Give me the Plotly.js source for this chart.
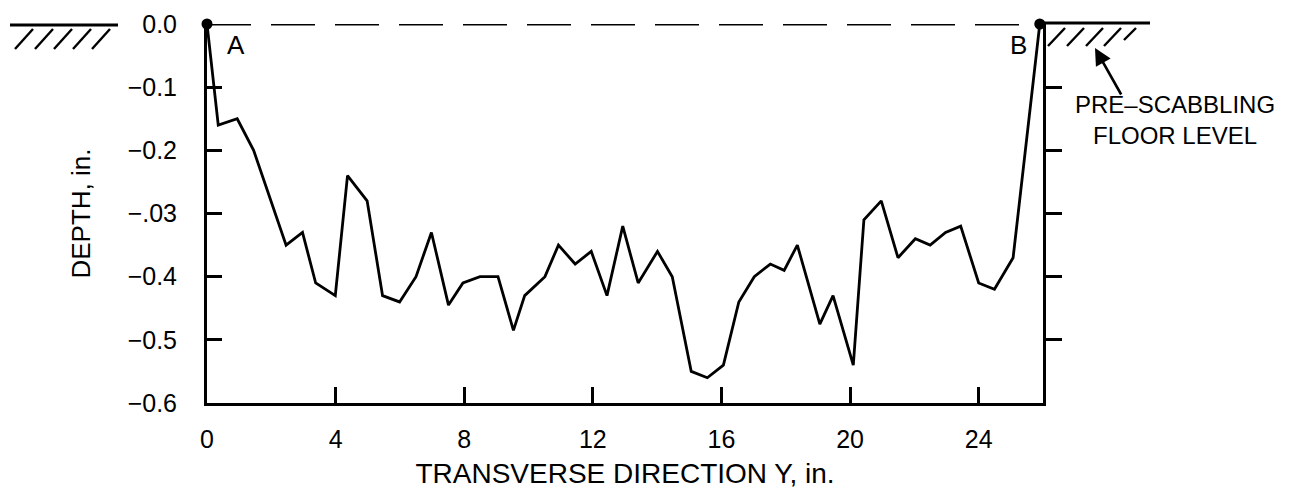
<!DOCTYPE html>
<html>
<head>
<meta charset="utf-8">
<script src="https://cdn.plot.ly/plotly-3.0.1.min.js"></script>
<style>
  html, body { margin: 0; padding: 0; background: #ffffff; }
  #chart { width: 1295px; height: 497px; }
</style>
</head>
<body>
<div id="chart"></div>
<script>
// ---- Data ----
const transverseY = [0, 0.35, 0.94, 1.45, 2.46, 2.97, 3.38, 3.99, 4.37, 4.98, 5.46, 5.99, 6.50, 6.98, 7.51, 7.96, 8.49, 9.05, 9.53, 9.88, 10.51, 10.93, 11.45, 11.95, 12.44, 12.93, 13.41, 14.01, 14.47, 15.06, 15.56, 16.06, 16.54, 17.02, 17.52, 17.95, 18.36, 19.06, 19.47, 20.10, 20.43, 20.97, 21.49, 22.03, 22.49, 22.97, 23.44, 24.00, 24.49, 25.07, 25.90];
const depth = [0, -0.16, -0.15, -0.20, -0.35, -0.33, -0.41, -0.43, -0.24, -0.28, -0.43, -0.44, -0.40, -0.33, -0.445, -0.41, -0.40, -0.40, -0.485, -0.43, -0.40, -0.35, -0.38, -0.36, -0.43, -0.32, -0.41, -0.36, -0.40, -0.55, -0.56, -0.54, -0.44, -0.40, -0.38, -0.39, -0.35, -0.475, -0.43, -0.54, -0.31, -0.28, -0.37, -0.34, -0.35, -0.33, -0.32, -0.41, -0.42, -0.37, 0];

const floorX = [0, 25.9];
const floorY = [0, 0];
const floorLabels = ['A', 'B'];

const xTickVals = [0, 4, 8, 12, 16, 20, 24];
const xTickText = ['0', '4', '8', '12', '16', '20', '24'];
const yTickVals = [0, -0.1, -0.2, -0.3, -0.4, -0.5, -0.6];
const yTickText = ['0.0', '\u22120.1', '\u22120.2', '\u2212.03', '\u22120.4', '\u22120.5', '\u22120.6'];
const rightTickVals = [-0.1, -0.2, -0.3, -0.4, -0.5];

const xTitle = 'TRANSVERSE DIRECTION Y, in.';
const yTitle = 'DEPTH, in.';
const noteText = 'PRE\u2013SCABBLING<br>FLOOR LEVEL';

// ---- Layout geometry ----
const W = 1295, H = 497;
const M = { l: 207, r: 252, t: 24, b: 94 };
const PW = W - M.l - M.r, PH = H - M.t - M.b;
const px = v => (v - M.l) / PW;          // pixel x -> paper x
const py = v => (H - M.b - v) / PH;      // pixel y -> paper y

const FONT = 'Liberation Sans, Arial, sans-serif';
const LW = 3;

const traces = [
  {
    x: transverseY, y: depth,
    type: 'scatter', mode: 'lines',
    line: { color: '#000', width: 2.8 },
    cliponaxis: false, hoverinfo: 'x+y', showlegend: false
  },
  {
    x: floorX, y: floorY,
    type: 'scatter', mode: 'lines+markers',
    yaxis: 'y2',
    line: { color: '#000', width: 3, dash: '44px,20px' },
    marker: { color: '#000', size: 11 },
    cliponaxis: false, showlegend: false
  }
];

// hatching marks (decoration) in pixel coords
const hatchSeg = [
  [10, 25, 118, 25],
  [15, 49, 33, 29], [35, 49, 53, 29], [54, 49, 72, 29], [73, 49, 91, 29], [92, 49, 110, 29],
  [1043, 23, 1150, 23],
  [1048, 46, 1065, 28], [1067, 46, 1084, 28], [1086, 46, 1103, 28], [1104, 46, 1121, 28], [1124, 40, 1136, 28]
];
const shapes = hatchSeg.map((s, i) => ({
  type: 'line', xref: 'paper', yref: 'paper',
  x0: px(s[0]), y0: py(s[1]), x1: px(s[2]), y1: py(s[3]),
  line: { color: '#000', width: (i === 0 || i === 6) ? LW : 2.4 }
}));

const annotations = [
  { xref: 'x', yref: 'y', x: floorX[0], y: floorY[0], text: floorLabels[0], showarrow: false,
    xshift: 29, yshift: -21, font: { family: FONT, size: 26, color: '#000' } },
  { xref: 'x', yref: 'y', x: floorX[1], y: floorY[1], text: floorLabels[1], showarrow: false,
    xshift: -21, yshift: -21, font: { family: FONT, size: 26, color: '#000' } },
  { xref: 'paper', yref: 'paper', x: px(1095), y: py(48), text: '', showarrow: true,
    ax: 27, ay: 48, arrowhead: 2, arrowsize: 1.3, arrowwidth: 2.6, arrowcolor: '#000' },
  { xref: 'paper', yref: 'paper', x: px(1175), y: py(120), text: noteText, showarrow: false,
    align: 'center', xanchor: 'center', yanchor: 'middle',
    font: { family: FONT, size: 24, color: '#000' } }
];

const layout = {
  width: W, height: H,
  margin: M,
  paper_bgcolor: '#fff', plot_bgcolor: '#fff',
  font: { family: FONT, size: 25, color: '#000' },
  showlegend: false,
  xaxis: {
    range: [0, 26], showgrid: false, zeroline: false,
    showline: true, linecolor: '#000', linewidth: LW,
    ticks: 'inside', ticklen: 16, tickwidth: LW, tickcolor: '#000',
    tickvals: xTickVals, ticktext: xTickText,
    ticklabelstandoff: 12,
    tickfont: { family: FONT, size: 25 },
    title: { text: xTitle, font: { family: FONT, size: 28 }, standoff: 12 }
  },
  yaxis: {
    range: [-0.6, 0], showgrid: false, zeroline: false,
    showline: true, linecolor: '#000', linewidth: LW,
    ticks: 'inside', ticklen: 15, tickwidth: LW, tickcolor: '#000',
    tickvals: yTickVals, ticktext: yTickText,
    ticklabelstandoff: 22,
    tickfont: { family: FONT, size: 25 },
    title: { text: yTitle, font: { family: FONT, size: 26 }, standoff: 30 }
  },
  yaxis2: {
    overlaying: 'y', side: 'right', anchor: 'x',
    range: [-0.6, 0], showgrid: false, zeroline: false,
    showline: true, linecolor: '#000', linewidth: LW,
    ticks: 'outside', ticklen: 16, tickwidth: LW, tickcolor: '#000',
    tickvals: rightTickVals, showticklabels: false
  },
  shapes: shapes,
  annotations: annotations
};

Plotly.newPlot('chart', traces, layout, { staticPlot: true, displayModeBar: false });
</script>
</body>
</html>
